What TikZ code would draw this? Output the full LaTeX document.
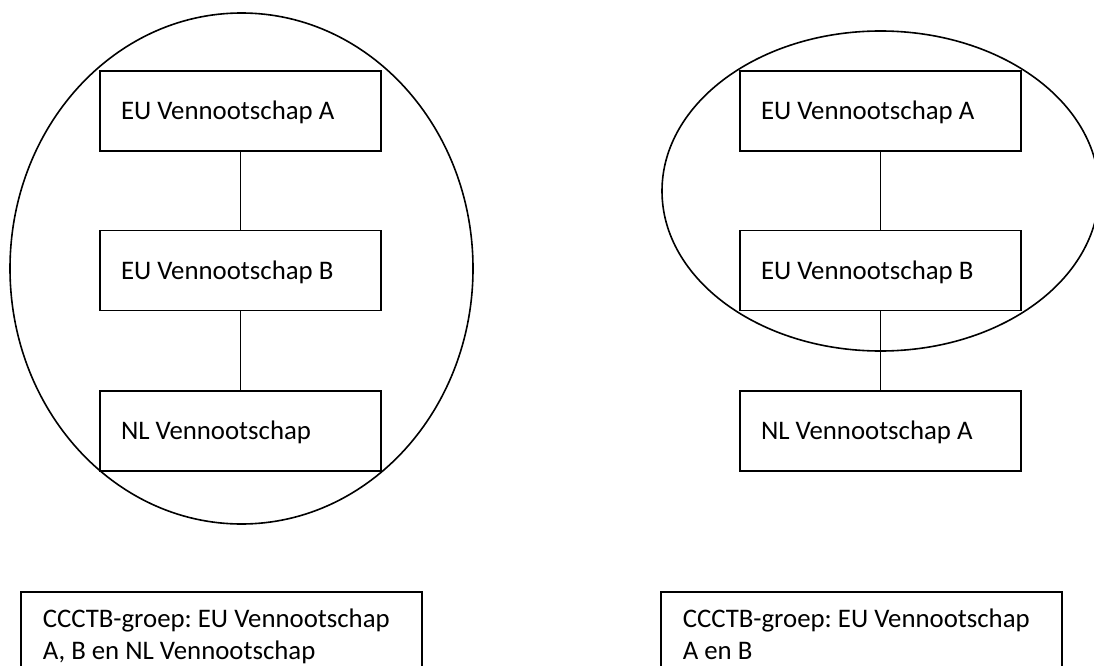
\documentclass[tikz,border=0pt]{standalone}
\usepackage{fontspec}
\setmainfont{Carlito}
\frenchspacing
\begin{document}
\begin{tikzpicture}[x=1pt,y=-1pt,line width=1.6pt,
  cobox/.style={draw, rectangle, minimum width=281pt, minimum height=80pt, inner xsep=21pt,
    text width=239pt, align=flush left, text height=17pt, text depth=0pt,
    font=\fontsize{26.8}{32}\selectfont\frenchspacing},
  groupbox/.style={draw, rectangle, anchor=north west, minimum width=401pt, minimum height=120pt, inner sep=0pt},
  grouptext/.style={align=left, inner sep=0pt, anchor=base west, font=\fontsize{26.8}{32}\selectfont\frenchspacing},
  link/.style={draw}]
\clip (0,0) rectangle (1094,666);
\fill[white] (0,0) rectangle (1094,666);
% left group
\draw (241.5,268.5) ellipse [x radius=231.5, y radius=255.5];
\node[cobox] (la) at (240.5,111) {EU Vennootschap A};
\node[cobox] (lb) at (240.5,270.5) {EU Vennootschap B};
\node[cobox] (lc) at (240.5,431) {NL Vennootschap};
\draw[link] (la) -- (lb);
\draw[link] (lb) -- (lc);
% right group
\draw (880.5,191) ellipse [x radius=218.5, y radius=160];
\node[cobox] (ra) at (880.5,111) {EU Vennootschap A};
\node[cobox] (rb) at (880.5,270.5) {EU Vennootschap B};
\node[cobox] (rc) at (880.5,431) {NL Vennootschap A};
\draw[link] (ra) -- (rb);
\draw[link] (rb) -- (rc);
% group boxes
\node[groupbox] (gl) at (20,591) {};
\node[grouptext] (glt) at (42,659) {CCCTB-groep: EU Vennootschap\\A, B en NL Vennootschap};
\node[groupbox] (gr) at (660,591) {};
\node[grouptext] (grt) at (682,659) {CCCTB-groep: EU Vennootschap\\A en B};
\end{tikzpicture}
\end{document}
